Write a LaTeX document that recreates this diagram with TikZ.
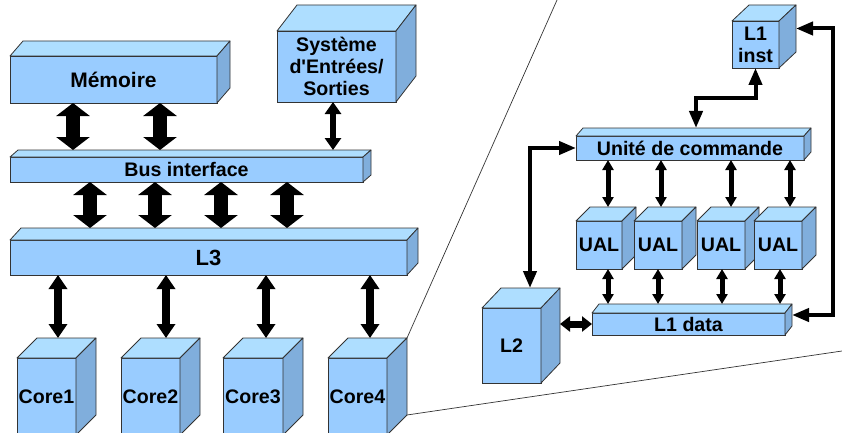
\documentclass[tikz,border=0pt]{standalone}
\usepackage{fontspec}
\setmainfont{Liberation Sans}[Ligatures=TeXOff]
\usetikzlibrary{arrows.meta}

\definecolor{facefront}{HTML}{99CCFF}
\definecolor{facetop}{HTML}{AEDEFF}
\definecolor{faceside}{HTML}{80AEDC}
\definecolor{faceedge}{HTML}{333333}

\tikzset{
  cube/.style={draw=faceedge, fill=facefront, line width=0.8pt, inner sep=0pt,
    outer sep=0pt, align=center, font=\bfseries\fontsize{19.6}{22}\selectfont},
  facepoly/.style={draw=faceedge, line width=0.8pt, line join=round},
  bigarrow/.style={line width=14pt, {Triangle[width=33pt,length=13pt]}-{Triangle[width=33pt,length=13pt]}},
  midarrow/.style={line width=8pt, {Triangle[width=18pt,length=14pt]}-{Triangle[width=18pt,length=14pt]}},
  ioarrow/.style={line width=6pt, {Triangle[width=16pt,length=12pt]}-{Triangle[width=16pt,length=12pt]}},
  smallarrow/.style={line width=5pt, {Triangle[width=11pt,length=10pt]}-{Triangle[width=11pt,length=10pt]}},
  sidearrow/.style={line width=7pt, {Triangle[width=15pt,length=10pt]}-{Triangle[width=15pt,length=10pt]}},
  link/.style={line width=4pt, line join=miter, {Triangle[width=13pt,length=17pt]}-{Triangle[width=13pt,length=17pt]}},
  zoomline/.style={line width=0.7pt, draw=black!80},
}

% A box seen in perspective: front face is a named node, top and right faces
% are drawn behind it with depth (#6 right, #7 up).
% #1 name, #2 x-left, #3 y-top, #4 x-right, #5 y-bottom, #6 dx, #7 dz, #8 text
\newcommand\cubebox[8]{%
  \pgfmathsetmacro\cubeW{#4-#2}\pgfmathsetmacro\cubeH{#5-#3}%
  \pgfmathsetmacro\cubeX{(#2+#4)/2}\pgfmathsetmacro\cubeY{(#3+#5)/2}%
  \node[cube, minimum width=\cubeW pt, minimum height=\cubeH pt] (#1) at (\cubeX,\cubeY) {#8};
  \filldraw[facepoly, fill=facetop] (#1.north west) -- ++(#6pt,#7pt)
    -- ([shift={(#6pt,#7pt)}]#1.north east) -- (#1.north east) -- cycle;
  \filldraw[facepoly, fill=faceside] (#1.north east) -- ++(#6pt,#7pt)
    -- ([shift={(#6pt,#7pt)}]#1.south east) -- (#1.south east) -- cycle;
  \coordinate (#1-t) at ([yshift=#7pt]#1.north);
  \coordinate (#1-e) at ([shift={(#6pt,#7pt)}]#1.east);
  \coordinate (#1-ne) at ([shift={(#6pt,#7pt)}]#1.north east);
  \coordinate (#1-se) at ([shift={(#6pt,#7pt)}]#1.south east);
}

\begin{document}
\begin{tikzpicture}[x=1pt,y=-1pt]
\useasboundingbox (0,0) rectangle (842,433);
\clip (0,0) rectangle (842,433);

% ---------- chip overview ----------
\cubebox{mem}{10}{56}{217}{103}{13}{15}{\fontsize{21}{24}\selectfont Mémoire}
\cubebox{io}{277}{31}{396}{102}{20}{26}{Système\\d'Entrées/\\Sorties}
\cubebox{bus}{10}{157}{363}{182}{8}{7}{Bus interface}
\cubebox{l3}{10}{240}{407}{275}{11}{12}{\fontsize{22}{24}\selectfont L3}
\cubebox{c1}{17}{358}{76}{435}{20}{20}{Core1}
\cubebox{c2}{121}{358}{180}{435}{20}{20}{Core2}
\cubebox{c3}{223}{358}{283}{435}{20}{20}{Core3}
\cubebox{c4}{328}{358}{387}{435}{20}{20}{Core4}

\foreach \x in {73,160}
  \draw[bigarrow] (\x,0 |- mem.south) -- (\x,0 |- bus-t);
\draw[ioarrow] (333,0 |- io.south) -- (333,0 |- bus-t);
\foreach \x in {90,155,221,287}
  \draw[bigarrow] (\x,0 |- bus.south) -- (\x,0 |- l3-t);
\foreach \x/\c in {58/c1,166/c2,266/c3,370/c4}
  \draw[midarrow] (\x,0 |- l3.south) -- (\x,0 |- \c-t);

% ---------- magnified core ----------
\coordinate (zoomtop) at (557,0);
\coordinate (zoombot) at (842,351);
\draw[zoomline] (c4-ne) -- (zoomtop);
\draw[zoomline] (c4-se) -- (zoombot);

\cubebox{l1i}{732}{21}{779}{68}{17}{16}{L1\\inst}
\cubebox{unit}{576}{136}{804}{160}{7}{8}{Unité de commande}
\cubebox{ual1}{576}{221}{622}{269}{14}{14}{UAL}
\cubebox{ual2}{634}{221}{682}{269}{14}{14}{UAL}
\cubebox{ual3}{697}{221}{745}{269}{14}{14}{UAL}
\cubebox{ual4}{754}{221}{802}{269}{14}{14}{UAL}
\cubebox{l1d}{592}{313}{785}{335}{7}{9}{L1 data}
\cubebox{l2}{482}{308}{541}{383}{19}{20}{L2}

\foreach \x/\u in {608/ual1,661/ual2,731/ual3,790/ual4}
  \draw[smallarrow] (\x,0 |- unit.south) -- (\x,0 |- \u-t);
\foreach \x/\u in {608/ual1,658/ual2,722/ual3,780/ual4}
  \draw[smallarrow] (\x,0 |- \u.south) -- (\x,0 |- l1d-t);

\draw[sidearrow] (l2-e |- l1d.west) -- (l1d.west);
\draw[link] (l1i.south) -- (l1i.south |- 0,98) -- (696,98) -- (696,0 |- unit-t);
\draw[link] (l1i-e) -- (833,0 |- l1i-e) -- (833,0 |- l1d-e) -- (l1d-e);
\draw[link] (unit.west) -- (530,0 |- unit.west) -- (530,0 |- l2-t);
\end{tikzpicture}
\end{document}
